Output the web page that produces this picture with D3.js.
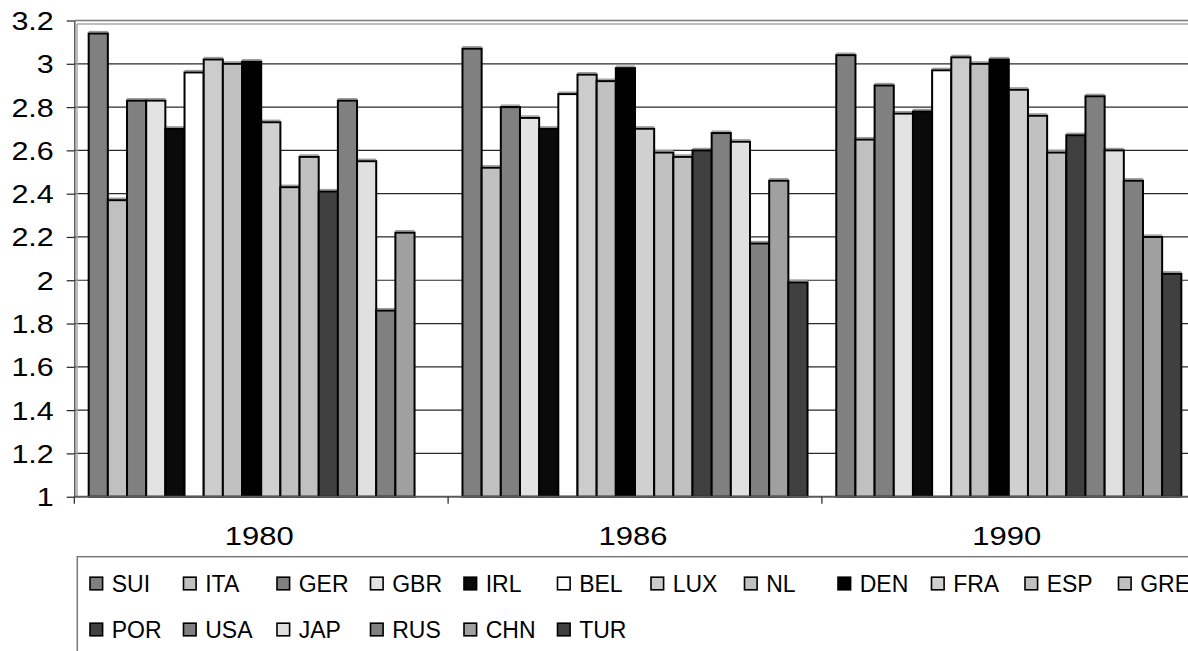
<!DOCTYPE html>
<html>
<head>
<meta charset="utf-8">
<script src="https://cdn.jsdelivr.net/npm/d3@7/dist/d3.min.js"></script>
<style>
  html, body { margin: 0; padding: 0; background: #fff; }
  svg { display: block; font-family: "Liberation Sans", Arial, sans-serif; }
</style>
</head>
<body>
<svg id="chart" width="1188" height="651"></svg>
<script>
// Years on the category axis
const years = ["1980", "1986", "1990"];

// Countries (one bar per country inside each year)
const countries = ["SUI", "ITA", "GER", "GBR", "IRL", "BEL", "LUX", "NL", "DEN",
                   "FRA", "ESP", "GRE", "POR", "USA", "JAP", "RUS", "CHN", "TUR"];

// Values per year, in country order (null = no value)
const values1980 = [3.14, 2.37, 2.83, 2.83, 2.70, 2.96, 3.02, 3.00, 3.01,
                    2.73, 2.43, 2.57, 2.41, 2.83, 2.55, 1.86, 2.22, null];
const values1986 = [3.07, 2.52, 2.80, 2.75, 2.70, 2.86, 2.95, 2.92, 2.98,
                    2.70, 2.59, 2.57, 2.60, 2.68, 2.64, 2.17, 2.46, 1.99];
const values1990 = [3.04, 2.65, 2.90, 2.77, 2.78, 2.97, 3.03, 3.00, 3.02,
                    2.88, 2.76, 2.59, 2.67, 2.85, 2.60, 2.46, 2.20, 2.03];

// Fill shade per country
const fills = ["#808080", "#c0c0c0", "#808080", "#e3e3e3", "#0a0a0a", "#ffffff",
               "#cccccc", "#c0c0c0", "#000000", "#d0d0d0", "#c0c0c0", "#c0c0c0",
               "#404040", "#808080", "#e0e0e0", "#808080", "#a0a0a0", "#404040"];

// Value-axis ticks
const yTicks = [1, 1.2, 1.4, 1.6, 1.8, 2, 2.2, 2.4, 2.6, 2.8, 3, 3.2];

const seriesByYear = { "1980": values1980, "1986": values1986, "1990": values1990 };

const svg = d3.select("#chart");

// Plot geometry
const plotLeft = 74.3, plotBottom = 496.7, plotTop = 20.5;
const groupW = 373.8;
const plotRight = plotLeft + groupW * years.length;

const x0 = d3.scaleBand().domain(years).range([plotLeft, plotRight]).padding(0);
const x1 = d3.scaleBand().domain(countries).range([0, x0.bandwidth()])
  .paddingInner(0).paddingOuter(0.75);
const y = d3.scaleLinear().domain([1, 3.2]).range([plotBottom, plotTop]);
const color = d3.scaleOrdinal().domain(countries).range(fills);

// Horizontal gridlines
svg.append("g").selectAll("line")
  .data(yTicks.filter(t => t > 1 && t < 3.2))
  .join("line")
  .attr("x1", plotLeft).attr("x2", 1188)
  .attr("y1", d => y(d)).attr("y2", d => y(d))
  .attr("stroke", "#2a2a2a").attr("stroke-width", 1.2);

// Plot-area frame (top double rule, left inner rule)
svg.append("line").attr("x1", plotLeft).attr("x2", 1188)
  .attr("y1", y(3.2)).attr("y2", y(3.2))
  .attr("stroke", "#7a7a7a").attr("stroke-width", 1.5);
svg.append("line").attr("x1", plotLeft + 2.5).attr("x2", 1188)
  .attr("y1", y(3.2) + 3.5).attr("y2", y(3.2) + 3.5)
  .attr("stroke", "#a8a8a8").attr("stroke-width", 1.5);
svg.append("line").attr("x1", plotLeft + 2.7).attr("x2", plotLeft + 2.7)
  .attr("y1", y(3.2) + 3.5).attr("y2", plotBottom)
  .attr("stroke", "#a8a8a8").attr("stroke-width", 1.5);

// Bars
const barData = [];
years.forEach(yr => {
  seriesByYear[yr].forEach((v, i) => {
    if (v != null) barData.push({ year: yr, country: countries[i], value: v });
  });
});

const bars = svg.append("g");
// soft grey cap above each bar
bars.selectAll("line.cap")
  .data(barData)
  .join("line")
  .attr("class", "cap")
  .attr("x1", d => x0(d.year) + x1(d.country))
  .attr("x2", d => x0(d.year) + x1(d.country) + x1.bandwidth())
  .attr("y1", d => y(d.value) - 1.9)
  .attr("y2", d => y(d.value) - 1.9)
  .attr("stroke", "#9c9c9c").attr("stroke-width", 1.4);

bars.selectAll("rect")
  .data(barData)
  .join("rect")
  .attr("x", d => x0(d.year) + x1(d.country))
  .attr("y", d => y(d.value))
  .attr("width", x1.bandwidth())
  .attr("height", d => y(1) - y(d.value))
  .attr("fill", d => color(d.country))
  .attr("stroke", "#000")
  .attr("stroke-width", 2);

// Value axis
const yAxis = svg.append("g")
  .attr("transform", `translate(${plotLeft},0)`)
  .call(d3.axisLeft(y).tickValues(yTicks).tickSize(7.6).tickSizeOuter(0)
    .tickFormat(d3.format("~g")));
yAxis.select(".domain").attr("stroke", "#5a5a5a").attr("stroke-width", 1.5);
yAxis.selectAll(".tick line").attr("stroke", "#222").attr("stroke-width", 1.2);
yAxis.selectAll(".tick text")
  .attr("x", 0).attr("dy", "0.36em")
  .attr("transform", "translate(-20.5,0) scale(1.22,1)")
  .attr("font-size", 25)
  .attr("font-family", "'Liberation Sans', Arial, sans-serif")
  .attr("fill", "#000");

// Category axis
svg.append("line")
  .attr("x1", plotLeft).attr("x2", 1188)
  .attr("y1", plotBottom).attr("y2", plotBottom)
  .attr("stroke", "#5a5a5a").attr("stroke-width", 2);
svg.append("g").selectAll("line")
  .data(years.map(yr => x0(yr)))
  .join("line")
  .attr("x1", d => d).attr("x2", d => d)
  .attr("y1", plotBottom).attr("y2", plotBottom + 7)
  .attr("stroke", "#222").attr("stroke-width", 1.2);
svg.append("g").selectAll("text")
  .data(years)
  .join("text")
  .attr("transform", d => `translate(${x0(d) + x0.bandwidth() / 2 - 2},545) scale(1.24,1)`)
  .attr("text-anchor", "middle")
  .attr("font-size", 25)
  .attr("fill", "#000")
  .text(d => d);

// Legend
const legendLeft = 77.3, legendTop = 556.7;
svg.append("rect")
  .attr("x", legendLeft).attr("y", legendTop)
  .attr("width", 1300).attr("height", 200)
  .attr("fill", "none").attr("stroke", "#7a7a7a").attr("stroke-width", 1.5);

const perRow = 12, colStep = 93.5, rowStep = 46;
const items = svg.append("g").selectAll("g")
  .data(countries)
  .join("g")
  .attr("transform", (d, i) =>
    `translate(${89.3 + (i % perRow) * colStep},${583.5 + Math.floor(i / perRow) * rowStep})`);
items.append("rect")
  .attr("x", 0.7).attr("y", -6.3)
  .attr("width", 12.6).attr("height", 12.6)
  .attr("fill", d => color(d))
  .attr("stroke", "#000").attr("stroke-width", 1.6);
items.append("text")
  .attr("x", 22.4).attr("y", 8)
  .attr("font-size", 23)
  .attr("fill", "#000")
  .text(d => d);
</script>
</body>
</html>
